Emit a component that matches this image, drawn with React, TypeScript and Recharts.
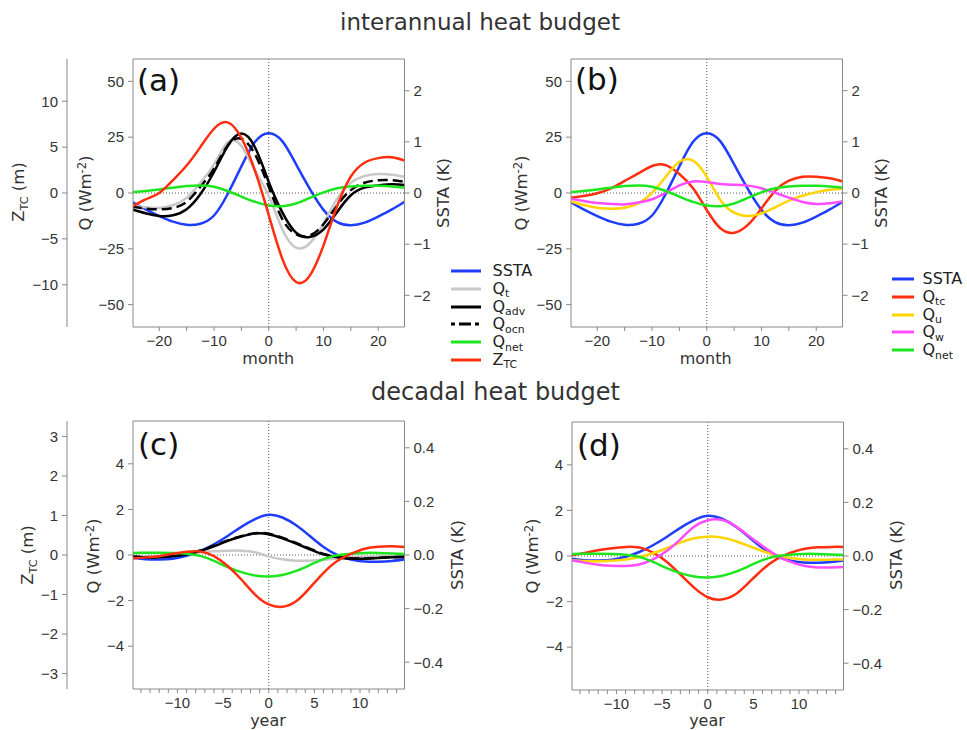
import React from 'react';
import { LineChart, Line, XAxis, YAxis, ReferenceLine } from 'recharts';

// x positions (months for interannual, years for decadal)
const monthX = [-25, -22.5, -20, -17.5, -15, -12.5, -10, -7.5, -5, -2.5, 0, 2.5, 5, 7.5, 10, 12.5, 15, 17.5, 20, 22.5, 25];
const yearX = [-15, -13.5, -12, -10.5, -9, -7.5, -6, -4.5, -3, -1.5, 0, 1.5, 3, 4.5, 6, 7.5, 9, 10.5, 12, 13.5, 15];

// interannual (K, Wm-2, m)
const sstaMonth = [-0.17, -0.32, -0.45, -0.56, -0.62, -0.6, -0.44, -0.02, 0.52, 1.0, 1.17, 1.01, 0.56, 0.08, -0.33, -0.57, -0.63, -0.58, -0.46, -0.32, -0.16];
const qnetMonth = [0.3, 0.9, 1.6, 2.4, 3.1, 3.4, 2.8, 0.9, -1.6, -4.0, -5.6, -5.9, -4.7, -2.2, 0.3, 2.1, 2.9, 3.2, 3.2, 2.9, 2.3];
const qtA = [-5.5, -6.4, -6.7, -5.5, -2.2, 4.6, 12.8, 22.8, 21.0, 9.9, -1.3, -16.3, -24.5, -22.5, -13.6, -2.5, 4.6, 7.6, 8.5, 8.2, 7.2];
const qadvA = [-7.3, -9.1, -10.3, -10.0, -7.3, -0.6, 9.4, 21.0, 26.6, 20.4, 5.0, -8.8, -17.8, -19.7, -16.3, -8.5, -1.0, 2.4, 3.4, 3.9, 3.6];
const qocnA = [-6.1, -7.0, -7.3, -6.7, -4.0, 2.8, 10.9, 21.3, 24.3, 17.3, 2.8, -11.8, -18.5, -19.0, -14.0, -5.5, 1.3, 4.6, 5.7, 5.7, 4.9];
const ztcA = [-1.5, -0.7, 0.0, 1.4, 3.0, 5.0, 7.0, 7.7, 6.0, 2.4, -2.4, -7.2, -9.7, -9.0, -5.7, -1.4, 1.8, 3.3, 3.8, 3.9, 3.5];
const qtcB = [-2.1, -1.3, -0.1, 2.1, 5.4, 8.8, 12.1, 12.5, 8.5, 2.1, -7.6, -15.8, -17.8, -14.3, -6.9, 1.0, 5.5, 7.3, 7.3, 6.6, 5.1];
const quB = [-3.6, -5.4, -6.6, -7.0, -6.6, -4.6, 0.1, 7.3, 14.0, 14.5, 7.3, -3.1, -8.8, -10.3, -9.1, -6.4, -3.4, -1.2, 0.4, 1.5, 1.9];
const qwB = [-2.5, -3.6, -4.5, -4.9, -5.1, -4.3, -2.8, 0.1, 3.4, 5.2, 4.9, 4.0, 3.7, 3.3, 2.1, 0.1, -2.1, -4.0, -4.9, -4.6, -3.6];

// decadal
const sstaYear = [-0.01, -0.016, -0.017, -0.014, -0.003, 0.015, 0.04, 0.071, 0.105, 0.134, 0.15, 0.14, 0.111, 0.071, 0.03, 0.0, -0.017, -0.024, -0.025, -0.022, -0.016];
const qnetYear = [0.09, 0.1, 0.1, 0.09, 0.06, -0.04, -0.26, -0.53, -0.75, -0.9, -0.94, -0.88, -0.7, -0.44, -0.18, -0.01, 0.06, 0.09, 0.09, 0.07, 0.04];
const qtC = [-0.09, -0.07, -0.04, 0, 0.06, 0.12, 0.16, 0.19, 0.19, 0.12, -0.06, -0.19, -0.25, -0.25, -0.21, -0.15, -0.1, -0.07, -0.06, -0.06, -0.06];
const qadvC = [-0.07, -0.1, -0.1, -0.06, 0.03, 0.18, 0.38, 0.62, 0.81, 0.94, 0.91, 0.73, 0.5, 0.25, 0.03, -0.1, -0.16, -0.16, -0.13, -0.1, -0.09];
const qocnC = [-0.06, -0.09, -0.09, -0.05, 0.04, 0.2, 0.41, 0.64, 0.83, 0.96, 0.93, 0.76, 0.53, 0.28, 0.05, -0.08, -0.14, -0.15, -0.12, -0.09, -0.08];
const ztcC = [-0.09, -0.06, -0.03, 0.03, 0.08, 0.09, -0.03, -0.28, -0.62, -1.0, -1.25, -1.31, -1.17, -0.83, -0.45, -0.15, 0.03, 0.16, 0.21, 0.22, 0.2];
const qtcD = [0.03, 0.13, 0.25, 0.34, 0.4, 0.37, 0.15, -0.25, -0.81, -1.39, -1.81, -1.91, -1.69, -1.17, -0.59, -0.15, 0.13, 0.31, 0.38, 0.4, 0.4];
const quD = [-0.18, -0.22, -0.23, -0.21, -0.15, -0.04, 0.12, 0.34, 0.59, 0.78, 0.85, 0.81, 0.66, 0.44, 0.22, 0.03, -0.09, -0.15, -0.16, -0.16, -0.15];
const qwD = [-0.18, -0.29, -0.38, -0.43, -0.44, -0.37, -0.15, 0.22, 0.73, 1.28, 1.57, 1.59, 1.32, 0.88, 0.44, 0.04, -0.25, -0.43, -0.5, -0.5, -0.48];

// ticks
const monthTicks = [-20, -15, -10, -5, 0, 5, 10, 15, 20];
const yearTicks = [-14, -13, -12, -11, -10, -9, -8, -7, -6, -5, -4, -3, -2, -1, 0, 1, 2, 3, 4, 5, 6, 7, 8, 9, 10, 11, 12, 13, 14];
const qTicksI = [-50, -25, 0, 25, 50];
const sTicksI = [-2, -1, 0, 1, 2];
const zTicksI = [-10, -5, 0, 5, 10];
const qTicksD = [-4, -2, 0, 2, 4];
const sTicksD = [-0.4, -0.2, 0, 0.2, 0.4];
const zTicksD = [-3, -2, -1, 0, 1, 2, 3];

const BLUE = '#1f3dff';
const GREY = '#c8c8c8';
const BLACK = '#000';
const GREEN = '#1ee61e';
const RED = '#ff2e0e';
const YELLOW = '#ffd500';
const MAGENTA = '#ff4dff';

const AXIS = '#888';
const TXT = '#333';
const SANS = '"DejaVu Sans", sans-serif';
const tickFont = { fill: TXT, fontSize: 15, fontFamily: '"Liberation Sans", Arial, sans-serif' };
const minus = (v: number) => String(v).replace('-', '\u2212');
const oneDecimal = (v: number) => (Math.abs(v) < 1e-9 ? '0.0' : minus(Number(v.toFixed(1))).replace(/^(\u2212?\d)$/, '$1.0'));

const rowsA = monthX.map((x, i) => ({
  x, ssta: sstaMonth[i], qt: qtA[i], qadv: qadvA[i], qocn: qocnA[i], qnet: qnetMonth[i], ztc: ztcA[i],
}));
const rowsB = monthX.map((x, i) => ({
  x, ssta: sstaMonth[i], qtc: qtcB[i], qu: quB[i], qw: qwB[i], qnet: qnetMonth[i],
}));
const rowsC = yearX.map((x, i) => ({
  x, ssta: sstaYear[i], qt: qtC[i], qadv: qadvC[i], qocn: qocnC[i], qnet: qnetYear[i], ztc: ztcC[i],
}));
const rowsD = yearX.map((x, i) => ({
  x, ssta: sstaYear[i], qtc: qtcD[i], qu: quD[i], qw: qwD[i], qnet: qnetYear[i],
}));

interface Series { key: string; axis: string; color: string; dash?: string }

const seriesAC: Series[] = [
  { key: 'ssta', axis: 's', color: BLUE },
  { key: 'qt', axis: 'q', color: GREY },
  { key: 'qadv', axis: 'q', color: BLACK },
  { key: 'qocn', axis: 'q', color: BLACK, dash: '10 5' },
  { key: 'qnet', axis: 'q', color: GREEN },
  { key: 'ztc', axis: 'z', color: RED },
];
const seriesBD: Series[] = [
  { key: 'ssta', axis: 's', color: BLUE },
  { key: 'qtc', axis: 'q', color: RED },
  { key: 'qu', axis: 'q', color: YELLOW },
  { key: 'qw', axis: 'q', color: MAGENTA },
  { key: 'qnet', axis: 'q', color: GREEN },
];

interface PanelProps {
  left: number; top: number; qWidth: number; zWidth?: number;
  rows: any[]; series: Series[];
  xDomain: [number, number]; xTicks: number[]; labelEvery: number;
  qDomain: [number, number]; qTicks: number[];
  sDomain: [number, number]; sTicks: number[]; sFmt: (v: number) => string;
  zDomain?: [number, number]; zTicks?: number[];
}

function Panel(p: PanelProps) {
  const plotW = 271.5;
  const width = p.qWidth + (p.zWidth ?? 0) + plotW + 50 + 5.5;
  return (
    <div style={{ position: 'absolute', left: p.left, top: p.top }}>
      <LineChart width={width} height={320} data={p.rows} margin={{ top: 15, right: 5.5, left: 0, bottom: 2 }}>
        <XAxis
          xAxisId="b" type="number" dataKey="x" domain={p.xDomain} ticks={p.xTicks} interval={0}
          allowDataOverflow height={30} tickSize={4} tickMargin={4} stroke={AXIS} tick={tickFont}
          tickFormatter={(v: number) => (v % p.labelEvery === 0 ? minus(v) : '')}
        />
        <XAxis
          xAxisId="t" orientation="top" type="number" dataKey="x" domain={p.xDomain} ticks={p.xTicks}
          interval={0} allowDataOverflow height={5} tickSize={4} stroke={AXIS} tick={false}
        />
        <YAxis
          yAxisId="q" domain={p.qDomain} ticks={p.qTicks} interval={0} width={p.qWidth}
          tickSize={5} tickMargin={4} stroke={AXIS} tick={tickFont} tickFormatter={minus}
        />
        {p.zDomain && (
          <YAxis
            yAxisId="z" domain={p.zDomain} ticks={p.zTicks} interval={0} width={p.zWidth}
            tickSize={5} tickMargin={4} stroke={AXIS} tick={tickFont} tickFormatter={minus}
          />
        )}
        <YAxis
          yAxisId="s" orientation="right" domain={p.sDomain} ticks={p.sTicks} interval={0} width={50}
          tickSize={5} tickMargin={4} stroke={AXIS} tick={tickFont} tickFormatter={p.sFmt}
        />
        <ReferenceLine xAxisId="b" yAxisId="q" x={0} stroke="#555" strokeDasharray="1 2" />
        <ReferenceLine xAxisId="b" yAxisId="q" y={0} stroke="#555" strokeDasharray="1 2" />
        {p.series.map((s) => (
          <Line
            key={s.key} xAxisId="b" yAxisId={s.axis} dataKey={s.key} type="natural"
            stroke={s.color} strokeWidth={2.5} strokeDasharray={s.dash} dot={false}
            isAnimationActive={false}
          />
        ))}
      </LineChart>
    </div>
  );
}

function Txt({ x, y, size = 16.5, rotate = false, children }: { x: number; y: number; size?: number; rotate?: boolean; children: React.ReactNode }) {
  return (
    <div
      style={{
        position: 'absolute', left: x, top: y, fontSize: size, lineHeight: 1, whiteSpace: 'nowrap',
        color: TXT, transform: rotate ? 'translate(-50%,-50%) rotate(-90deg)' : 'translate(-50%,-50%)',
      }}
    >
      {children}
    </div>
  );
}

// subscripts shifted without growing the line box
const subStyle: React.CSSProperties = { fontSize: '0.68em', position: 'relative', top: '0.32em' };
const supStyle: React.CSSProperties = { fontSize: '0.7em', position: 'relative', top: '-0.45em' };

function Legend({ x, y, lineW, gap, items }: { x: number; y: number; lineW: number; gap: number; items: { color: string; dash?: string; label: React.ReactNode }[] }) {
  return (
    <>
      {items.map((it, i) => (
        <div key={i} style={{ position: 'absolute', left: x, top: y + i * 17.8 - 9, width: 120, height: 18 }}>
          <svg width={lineW} height={4} style={{ position: 'absolute', left: 0, top: 7 }}>
            <line x1={0} y1={2} x2={lineW} y2={2} stroke={it.color} strokeWidth={3} strokeDasharray={it.dash} />
          </svg>
          <span
            style={{ position: 'absolute', left: lineW + gap, top: 0, fontSize: 16, lineHeight: '18px', color: '#222', whiteSpace: 'nowrap' }}
          >
            {it.label}
          </span>
        </div>
      ))}
    </>
  );
}

const Qsub = (s: string) => (<>Q<span style={subStyle}>{s}</span></>);
const qLabel = (<>Q (Wm<span style={supStyle}>-2</span>)</>);
const zLabel = (<>Z<span style={subStyle}>TC</span> (m)</>);

export default function App() {
  return (
    <div style={{ position: 'absolute', left: 0, top: 0, width: 967, height: 730, background: '#fff', fontFamily: SANS, overflow: 'hidden' }}>
      <Panel
        left={0} top={39} qWidth={66} zWidth={67} rows={rowsA} series={seriesAC}
        xDomain={[-24.8, 24.8]} xTicks={monthTicks} labelEvery={10}
        qDomain={[-60, 60]} qTicks={qTicksI} sDomain={[-2.62, 2.62]} sTicks={sTicksI} sFmt={minus}
        zDomain={[-14.6, 14.6]} zTicks={zTicksI}
      />
      <Panel
        left={510} top={39} qWidth={61} rows={rowsB} series={seriesBD}
        xDomain={[-24.8, 24.8]} xTicks={monthTicks} labelEvery={10}
        qDomain={[-60, 60]} qTicks={qTicksI} sDomain={[-2.62, 2.62]} sTicks={sTicksI} sFmt={minus}
      />
      <Panel
        left={0} top={401} qWidth={66} zWidth={67} rows={rowsC} series={seriesAC}
        xDomain={[-14.87, 14.87]} xTicks={yearTicks} labelEvery={5}
        qDomain={[-5.88, 5.88]} qTicks={qTicksD} sDomain={[-0.5, 0.5]} sTicks={sTicksD} sFmt={oneDecimal}
        zDomain={[-3.39, 3.39]} zTicks={zTicksD}
      />
      <Panel
        left={511} top={402} qWidth={61} rows={rowsD} series={seriesBD}
        xDomain={[-14.87, 14.87]} xTicks={yearTicks} labelEvery={5}
        qDomain={[-5.88, 5.88]} qTicks={qTicksD} sDomain={[-0.5, 0.5]} sTicks={sTicksD} sFmt={oneDecimal}
      />

      <Txt x={480} y={22} size={23}>interannual heat budget</Txt>
      <Txt x={495.5} y={392} size={24}>decadal heat budget</Txt>

      {['(a)', '(b)', '(c)', '(d)'].map((t, i) => (
        <div
          key={t}
          style={{ position: 'absolute', left: [137, 575, 138, 577][i], top: [64.5, 64, 429, 430][i], fontSize: 31, lineHeight: 1, color: '#111' }}
        >
          {t}
        </div>
      ))}

      <Txt x={19} y={192} rotate>{zLabel}</Txt>
      <Txt x={86} y={193} rotate>{qLabel}</Txt>
      <Txt x={444} y={193} rotate>SSTA (K)</Txt>
      <Txt x={268.3} y={359} size={16}>month</Txt>

      <Txt x={522} y={193} rotate>{qLabel}</Txt>
      <Txt x={882} y={193} rotate>SSTA (K)</Txt>
      <Txt x={705.7} y={359} size={16}>month</Txt>

      <Txt x={28} y={555} rotate>{zLabel}</Txt>
      <Txt x={93.5} y={555.5} rotate>{qLabel}</Txt>
      <Txt x={458} y={555} rotate>SSTA (K)</Txt>
      <Txt x={268} y={721} size={16}>year</Txt>

      <Txt x={533} y={555.5} rotate>{qLabel}</Txt>
      <Txt x={897} y={555} rotate>SSTA (K)</Txt>
      <Txt x={707} y={721} size={16}>year</Txt>

      <Legend
        x={451} y={271} lineW={30} gap={11.5}
        items={[
          { color: BLUE, label: 'SSTA' },
          { color: GREY, label: Qsub('t') },
          { color: BLACK, label: Qsub('adv') },
          { color: BLACK, dash: '4 4 12 4', label: Qsub('ocn') },
          { color: GREEN, label: Qsub('net') },
          { color: RED, label: (<>Z<span style={subStyle}>TC</span></>) },
        ]}
      />
      <Legend
        x={892} y={279} lineW={22} gap={8.5}
        items={[
          { color: BLUE, label: 'SSTA' },
          { color: RED, label: Qsub('tc') },
          { color: YELLOW, label: Qsub('u') },
          { color: MAGENTA, label: Qsub('w') },
          { color: GREEN, label: Qsub('net') },
        ]}
      />
    </div>
  );
}
